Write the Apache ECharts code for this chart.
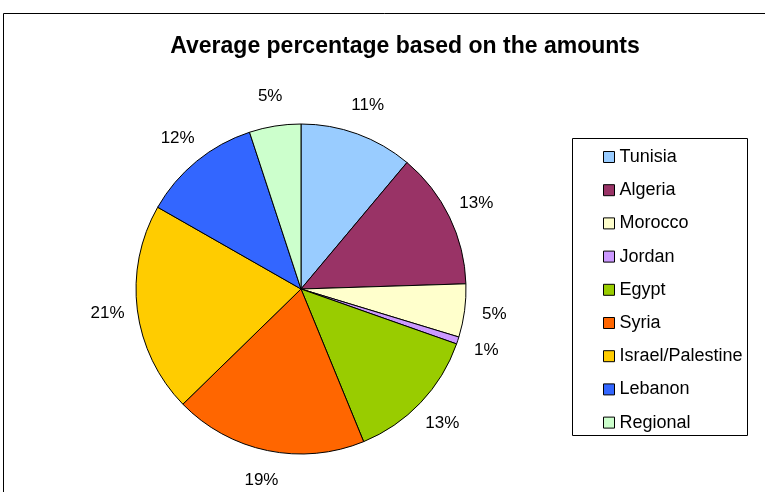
<!DOCTYPE html>
<html>
<head>
<meta charset="utf-8">
<script src="https://cdn.jsdelivr.net/npm/echarts@6/dist/echarts.min.js"></script>
<style>
html,body{margin:0;padding:0;background:#fff;}
#chart{width:765px;height:492px;}
</style>
</head>
<body>
<div id="chart"></div>
<script>
var categories = ['Tunisia','Algeria','Morocco','Jordan','Egypt','Syria','Israel/Palestine','Lebanon','Regional'];
var values = [11.1, 13.4, 5.2, 0.7, 13.4, 18.9, 20.55, 11.7, 5.05];
var colors = ['#99CCFF','#993366','#FFFFCC','#CC99FF','#99CC00','#FF6600','#FFCC00','#3366FF','#CCFFCC'];
var titleText = 'Average percentage based on the amounts';

var FONT = '"Liberation Sans", Arial, Helvetica, sans-serif';
var chart = echarts.init(document.getElementById('chart'), null, {renderer:'canvas'});
var data = categories.map(function(c,i){
  return {name:c, value:values[i], itemStyle:{color:colors[i]}};
});
chart.setOption({
  animation:false,
  backgroundColor:'#ffffff',
  title:{
    text:titleText, left:400, top:30, textAlign:'center',
    textStyle:{fontFamily:FONT, fontSize:23, fontWeight:'bold', color:'#000'}
  },
  graphic:[
    {type:'rect', shape:{x:3.5, y:13.5, width:800, height:600}, style:{fill:null, stroke:'#000', lineWidth:1}, silent:true, z:-1},
    {type:'rect', shape:{x:572.5, y:138.5, width:175, height:297}, style:{fill:null, stroke:'#000', lineWidth:1}, silent:true}
  ],
  legend:{
    orient:'vertical', left:573, top:139,
    padding:[9,0,0,30],
    icon:'rect', itemWidth:11, itemHeight:11, itemGap:15.2,
    selectedMode:false,
    itemStyle:{borderColor:'#000', borderWidth:1},
    textStyle:{fontFamily:FONT, fontSize:18, color:'#000', lineHeight:17},
    data:categories
  },
  series:[{
    type:'pie',
    center:[301,289],
    radius:165,
    startAngle:90,
    clockwise:true,
    avoidLabelOverlap:false,
    data:data,
    itemStyle:{borderColor:'#000', borderWidth:1},
    label:{
      show:true, position:'outside', distanceToLabelLine:0,
      formatter:function(p){ return Math.round(p.percent) + '%'; },
      fontFamily:FONT, fontSize:17, color:'#000'
    },
    labelLine:{show:false, length:30, length2:0},
    labelLayout:function(){ return {align:'center', verticalAlign:'middle'}; },
    emphasis:{disabled:true}
  }]
});
</script>
</body>
</html>
